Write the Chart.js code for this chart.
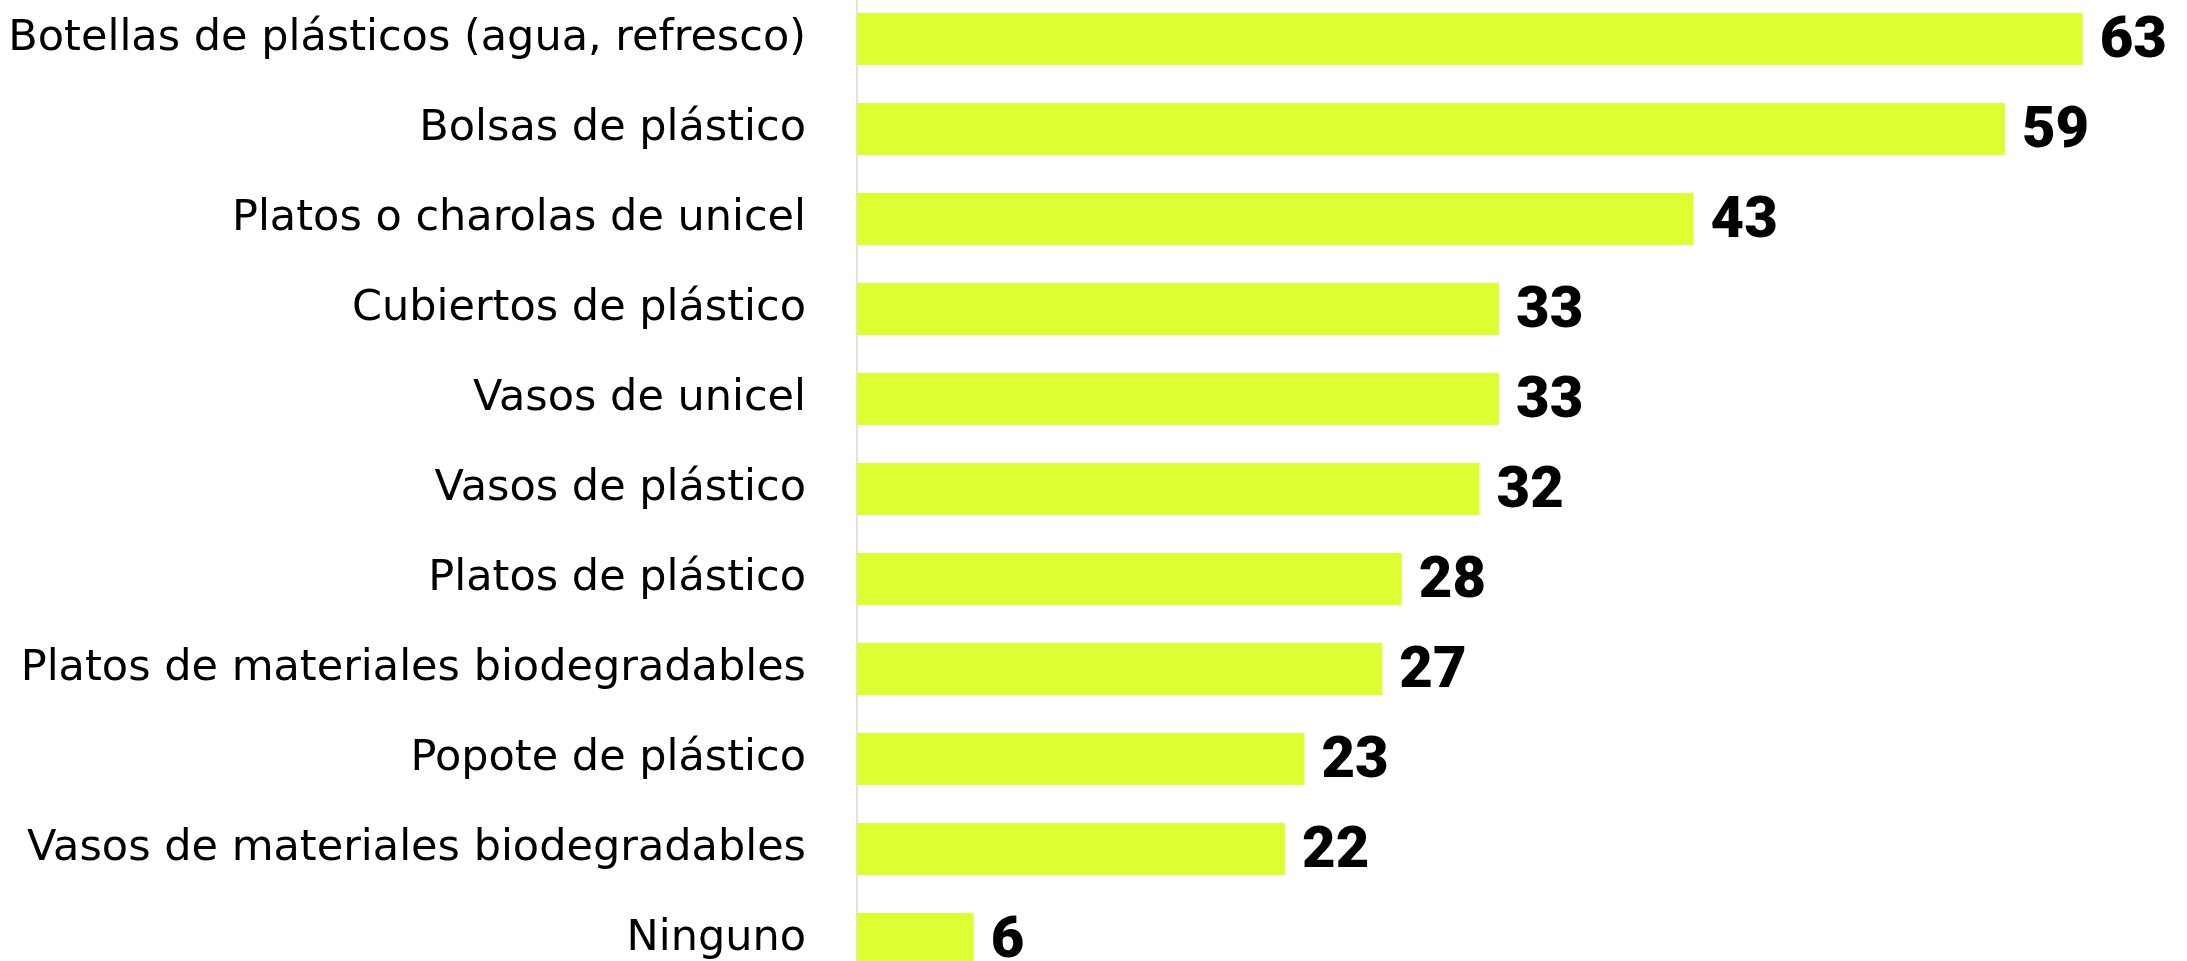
<!DOCTYPE html>
<html>
<head>
<meta charset="utf-8">
<script src="https://cdn.jsdelivr.net/npm/chart.js@4.4.1/dist/chart.umd.min.js"></script>
<style>
  html, body { margin: 0; padding: 0; background: #ffffff; overflow: hidden; }
  #wrap { position: absolute; left: 0; top: -6px; width: 2187px; height: 990px; }
</style>
</head>
<body>
<div id="wrap"><canvas id="c"></canvas></div>
<script>
const categories = [
  "Botellas de plásticos (agua, refresco)",
  "Bolsas de plástico",
  "Platos o charolas de unicel",
  "Cubiertos de plástico",
  "Vasos de unicel",
  "Vasos de plástico",
  "Platos de plástico",
  "Platos de materiales biodegradables",
  "Popote de plástico",
  "Vasos de materiales biodegradables",
  "Ninguno"
];
const values = [63, 59, 43, 33, 33, 32, 28, 27, 23, 22, 6];

const valueLabels = {
  id: 'valueLabels',
  afterDatasetsDraw(chart) {
    const ctx = chart.ctx;
    const meta = chart.getDatasetMeta(0);
    ctx.save();
    ctx.font = '900 58px Roboto, "Liberation Sans", sans-serif';
    ctx.fillStyle = '#000000';
    ctx.textAlign = 'left';
    ctx.textBaseline = 'middle';
    meta.data.forEach((bar, i) => {
      ctx.fillText(String(values[i]), bar.x + 17, bar.y + 3);
    });
    ctx.restore();
  }
};

new Chart(document.getElementById('c'), {
  type: 'bar',
  data: {
    labels: categories,
    datasets: [{
      data: values,
      backgroundColor: '#dcff33',
      borderWidth: 0,
      barPercentage: 0.578,
      categoryPercentage: 1.0
    }]
  },
  options: {
    indexAxis: 'y',
    responsive: true,
    maintainAspectRatio: false,
    animation: false,
    layout: { padding: { left: 0, right: 7, top: 0, bottom: 0 } },
    plugins: { legend: { display: false }, tooltip: { enabled: false } },
    scales: {
      x: {
        display: false,
        min: 0,
        max: 68
      },
      y: {
        grid: { display: false, drawTicks: false },
        border: { display: true, color: '#e6e1dc', width: 2 },
        ticks: {
          color: '#000000',
          padding: 51,
          autoSkip: false,
          font: { family: '"DejaVu Sans", sans-serif', size: 43 }
        },
        afterFit(scale) {
          scale.width = 857;
          scale.paddingTop = 0;
          scale.paddingBottom = 0;
        }
      }
    }
  },
  plugins: [valueLabels]
});
</script>
</body>
</html>
